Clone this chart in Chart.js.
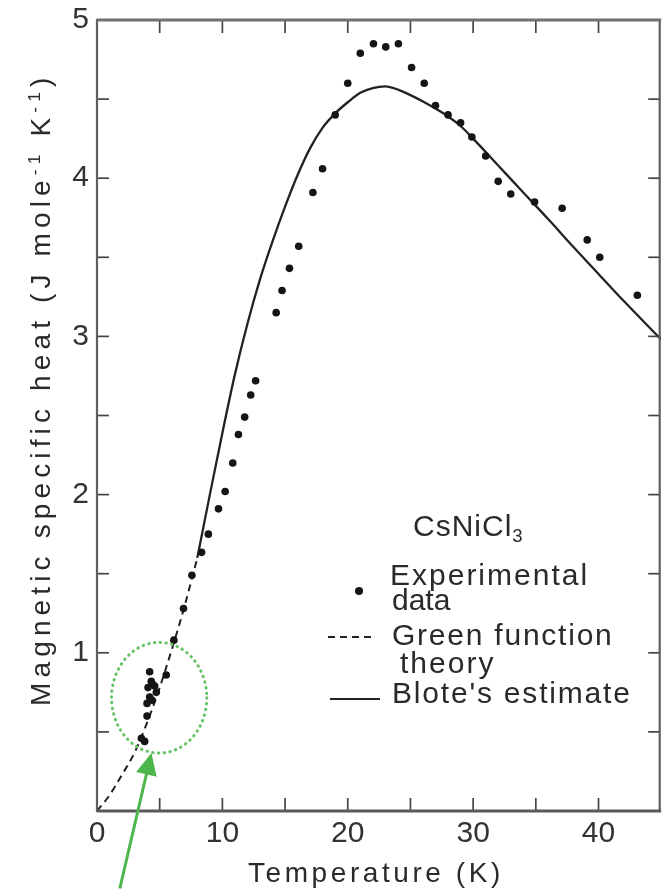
<!DOCTYPE html>
<html><head><meta charset="utf-8">
<script src="https://cdn.jsdelivr.net/npm/chart.js@4.4.1/dist/chart.umd.min.js"></script>
<style>
html,body{margin:0;padding:0;background:#fff;}
#wrap{position:relative;width:665px;height:889px;overflow:hidden;background:#fff;}
#c{position:absolute;left:0;top:0;}
.t{position:absolute;font-family:'Liberation Sans',Arial,sans-serif;color:#2a2a2a;white-space:nowrap;line-height:1;}
.t sup{font-size:0.62em;vertical-align:0.55em;line-height:0;}
.t sub{font-size:0.62em;vertical-align:-0.3em;line-height:0;}
.sym{position:absolute;}
</style></head><body>
<div id="wrap">
<canvas id="c" width="665" height="889"></canvas>
<div class="t" id="ytitle" style="font-size:28px;left:27px;top:706px;transform-origin:0 0;transform:rotate(-90deg);">Magnetic specific heat (J mole<sup>-1</sup> K<sup>-1</sup>)</div>
<div class="t" id="xtitle" style="font-size:28px;left:248px;top:859px;">Temperature (K)</div>
<div class="t" id="lg0" style="font-size:30px;left:413px;top:511px;">CsNiCl<sub>3</sub></div>
<div class="t" id="lg1" style="font-size:30px;left:390px;top:560px;">Experimental</div>
<div class="t" id="lg2" style="font-size:30px;left:392px;top:585px;">data</div>
<div class="t" id="lg3" style="font-size:30px;left:392px;top:620px;">Green function</div>
<div class="t" id="lg4" style="font-size:30px;left:400px;top:648px;">theory</div>
<div class="t" id="lg5" style="font-size:30px;left:392px;top:678px;">Blote's estimate</div>
<div class="sym" style="left:355px;top:587px;width:8px;height:8px;border-radius:50%;background:#151515;"></div>
<div class="sym" style="left:328px;top:636px;width:44px;height:2px;background:repeating-linear-gradient(90deg,#222 0 7px,transparent 7px 12px);"></div>
<div class="sym" style="left:330px;top:698px;width:50px;height:2px;background:#222;"></div>
</div>
<script>
// Experimental data (temperature K, magnetic specific heat J/mole/K)
const expT = [3.54,3.8,3.99,3.99,4.2,4.07,4.33,4.2,4.45,4.6,4.73,4.4,5.52,6.13,
  6.9,7.57,8.34,8.88,9.69,10.22,10.83,11.28,11.78,12.26,12.65,14.29,14.76,15.35,16.09,
  17.22,17.99,19.0,20.0,21.0,22.05,23.03,24.04,25.09,26.1,27.0,28.0,29.0,29.9,31.0,32.0,
  33.0,34.9,37.1,39.1,40.1,43.1];
const expC = [0.46,0.44,0.60,0.68,0.72,0.78,0.82,0.88,0.80,0.79,0.75,0.70,0.86,1.08,
  1.28,1.49,1.635,1.75,1.91,2.02,2.20,2.38,2.49,2.63,2.72,3.15,3.29,3.43,3.57,
  3.91,4.06,4.40,4.60,4.79,4.85,4.83,4.85,4.70,4.60,4.46,4.40,4.35,4.26,4.14,3.98,
  3.90,3.85,3.81,3.61,3.50,3.26];
// Green function theory (dashed)
const greenT = [0,1,2,3,4,5,6,7,8];
const greenC = [0,0.10,0.23,0.37,0.56,0.78,1.03,1.30,1.60];
// Blote's estimate (solid)
const bloteT = [8,9,10,11,12,13,14,15,16,17,18,19,20,21,22,23,24,25,26,27,28,29,30,32,34,36,38,40,42,45];
const bloteC = [1.60,2.00,2.39,2.76,3.08,3.36,3.60,3.82,4.02,4.19,4.32,4.41,4.48,4.54,4.57,4.58,4.56,4.525,4.485,4.44,4.39,4.33,4.25,4.08,3.91,3.74,3.565,3.395,3.225,2.98];
// tick labels
const xTickLabels = [0,10,20,30,40];
const yTickLabels = [1,2,3,4,5];
// annotation (data units): circle centre/radii, arrow tail/tip
const circleCenter = [4.96,0.716];
const circleRadii = [3.8,0.35];
const arrowTail = [1.82,-0.49];
const arrowTip = [4.34,0.367];

const pts = (xs,ys)=>xs.map((v,i)=>({x:v,y:ys[i]}));

const framePlugin = {
  id:'frame',
  afterDraw(chart){
    const ctx = chart.ctx, x = chart.scales.x, y = chart.scales.y;
    const L = x.getPixelForValue(x.min), R = x.getPixelForValue(x.max);
    const T = y.getPixelForValue(y.max), B = y.getPixelForValue(y.min);
    ctx.save();
    ctx.setLineDash([]);
    const ln=(x1,y1,x2,y2)=>{ctx.beginPath();ctx.moveTo(x1,y1);ctx.lineTo(x2,y2);ctx.stroke();};
    // inward ticks
    ctx.strokeStyle='#444'; ctx.lineWidth=1.7;
    for (let v = 5; v < 45; v += 5) { const p = x.getPixelForValue(v);
      ln(p,T,p,T+13); ln(p,B,p,B-13); }
    for (let v = 0.5; v < 5; v += 0.5) { const p = y.getPixelForValue(v);
      ln(L,p,L+12,p); ln(R-1,p,R-13,p); }
    // frame
    ctx.strokeStyle='#5f5f5f'; ctx.lineWidth=2.2;
    ln(L,T-1,L,B+1);
    ln(R-1.5,T-1,R-1.5,B+1);
    ctx.strokeStyle='#707070'; ctx.lineWidth=3;
    ln(L,T,R,T);
    ctx.strokeStyle='#5a5a5a'; ctx.lineWidth=3.2;
    ln(L,B,R,B);
    // dotted green circle
    const cx=x.getPixelForValue(circleCenter[0]), cy=y.getPixelForValue(circleCenter[1]);
    const rx=Math.abs(x.getPixelForValue(circleCenter[0]+circleRadii[0])-cx);
    const ry=Math.abs(y.getPixelForValue(circleCenter[1]+circleRadii[1])-cy);
    ctx.strokeStyle='#66c266'; ctx.lineWidth=3; ctx.lineCap='round'; ctx.setLineDash([0.5,5.3]);
    ctx.beginPath(); ctx.ellipse(cx,cy,rx,ry,0,0,Math.PI*2); ctx.stroke();
    ctx.setLineDash([]); ctx.lineCap='butt';
    // green arrow
    const tx=x.getPixelForValue(arrowTail[0]), ty=y.getPixelForValue(arrowTail[1]);
    const hx=x.getPixelForValue(arrowTip[0]), hy=y.getPixelForValue(arrowTip[1]);
    const dx=hx-tx, dy=hy-ty, len=Math.hypot(dx,dy), ux=dx/len, uy=dy/len;
    const headL=22, headW=10.5;
    const bx=hx-ux*headL, by=hy-uy*headL;
    ctx.strokeStyle='#4db64d'; ctx.fillStyle='#4db64d'; ctx.lineWidth=3;
    ln(tx,ty,bx+ux*2,by+uy*2);
    ctx.beginPath(); ctx.moveTo(hx,hy); ctx.lineTo(bx-uy*headW,by+ux*headW); ctx.lineTo(bx+uy*headW,by-ux*headW); ctx.closePath(); ctx.fill();
    ctx.restore();
  }
};

const tickFont = {family:"'Liberation Sans', Arial, sans-serif", size:30};
new Chart(document.getElementById('c').getContext('2d'), {
  type:'scatter',
  data:{datasets:[
    {label:'Experimental data', data:pts(expT,expC), showLine:false, pointRadius:3.8, pointHoverRadius:3.8,
      pointBackgroundColor:'#151515', pointBorderWidth:0, borderColor:'#151515'},
    {label:'Green function theory', type:'line', data:pts(greenT,greenC), borderColor:'#222', borderWidth:2,
      borderDash:[7,5], pointRadius:0, fill:false, cubicInterpolationMode:'monotone'},
    {label:"Blote's estimate", type:'line', data:pts(bloteT,bloteC), borderColor:'#222', borderWidth:2.3,
      pointRadius:0, fill:false, cubicInterpolationMode:'monotone'}
  ]},
  options:{
    responsive:false, animation:false, devicePixelRatio:1,
    layout:{padding:{top:20,right:1,left:0,bottom:0}},
    plugins:{legend:{display:false}, tooltip:{enabled:false}},
    scales:{
      x:{type:'linear', min:0, max:45, border:{display:false}, grid:{display:false, drawTicks:false},
        ticks:{stepSize:5, autoSkip:false, maxRotation:0, padding:5, font:tickFont, color:'#333',
          callback:v=>xTickLabels.includes(v)?String(v):''},
        afterFit(s){s.height=78; s.paddingLeft=0; s.paddingRight=0;}},
      y:{min:0, max:5, border:{display:false}, grid:{display:false, drawTicks:false},
        ticks:{stepSize:0.5, autoSkip:false, padding:8, font:tickFont, color:'#333',
          callback:v=>yTickLabels.includes(v)?String(v):''},
        afterFit(s){s.width=97; s.paddingTop=0; s.paddingBottom=0;}}
    }
  },
  plugins:[framePlugin]
});

function fit(id,target){const el=document.getElementById(id);const w=el.offsetWidth;const n=el.textContent.length;
  el.style.letterSpacing=((target-w)/(n-1))+'px';}
fit('ytitle',628); fit('xtitle',252); fit('lg0',110); fit('lg1',197); fit('lg2',58); fit('lg3',220); fit('lg4',93); fit('lg5',238);
</script>
</body></html>
